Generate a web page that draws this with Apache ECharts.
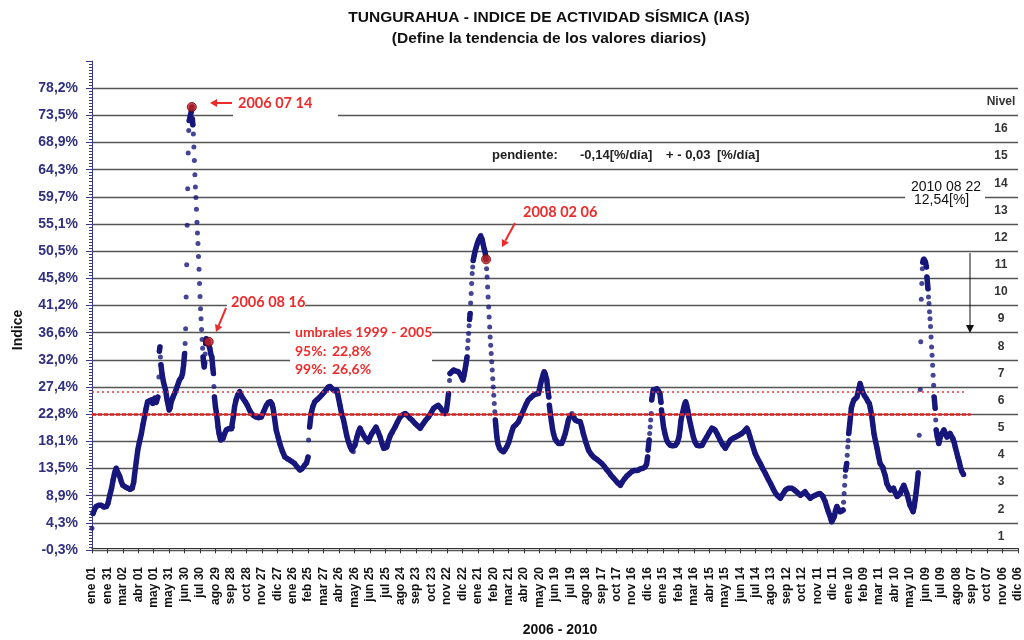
<!DOCTYPE html>
<html><head><meta charset="utf-8">
<script src="https://cdn.jsdelivr.net/npm/echarts@6/dist/echarts.min.js"></script>
<style>html,body{margin:0;padding:0;background:#fff}#c{width:1024px;height:640px}</style>
</head><body><div id="c"></div>
<script>
// ---- tick labels ----
const xLabels = ['ene 01','ene 31','mar 02','abr 01','may 01','may 31','jun 30','jul 30','ago 29','sep 28','oct 28','nov 27','dic 27',
 'ene 26','feb 25','mar 27','abr 26','may 26','jun 25','jul 25','ago 24','sep 23','oct 23','nov 22','dic 22',
 'ene 21','feb 20','mar 21','abr 20','may 20','jun 19','jul 19','ago 18','sep 17','oct 17','nov 16','dic 16',
 'ene 15','feb 14','mar 16','abr 15','may 15','jun 14','jul 14','ago 13','sep 12','oct 12','nov 11','dic 11',
 'ene 10','feb 09','mar 11','abr 10','may 10','jun 09','jul 09','ago 08','sep 07','oct 07','nov 06','dic 06'];
const yLabels = ['-0,3%','4,3%','8,9%','13,5%','18,1%','22,8%','27,4%','32,0%','36,6%','41,2%','45,8%','50,5%','55,1%','59,7%','64,3%','68,9%','73,5%','78,2%'];
const nivelLabels = ['1','2','3','4','5','6','7','8','9','10','11','12','13','14','15','16','Nivel',''];
const yMin = -0.3, yMaxLabel = 78.2;
const dayStep = 30, dayMax = 1800;

// ---- daily IAS values (day index from 2006-01-01, value in %) ----
const days = [0,2,5,8,13,18,23,28,31,34,38,41,44,47,50,54,57,60,65,70,74,78,81,83,86,89,92,96,99,102,105,108,111,115,118,122,125,128,130,131,132,133,134,136,139,143,146,150,152,154,158,162,166,170,174,176,178,180,181,182,183,184,185,186,187,188,189,191,193,194,
195,196,197,198,199,200,201,202,203,204,205,206,207,208,209,210,211,212,213,214,215,216,217,218,219,220,221,222,224,225,227,229,231,233,235,236,237,238,240,242,244,245,247,250,253,255,258,261,265,268,271,273,275,277,280,283,287,
290,294,298,302,306,310,315,319,324,329,334,339,343,347,350,352,355,358,362,365,370,375,380,384,389,394,399,404,408,413,417,420,421,423,426,429,433,438,443,448,452,456,459,463,466,469,472,476,479,482,485,489,492,495,498,502,505,508,511,515,518,521,524,528,532,537,540,544,548,552,556,560,563,567,570,573,576,580,584,589,594,599,604,609,614,618,623,628,633,638,641,644,649,654,659,664,669,673,677,680,683,686,689,691,693,695,696,699,703,708,712,716,719,721,723,725,727,729,
730,731,732,733,734,735,736,737,738,739,740,741,743,745,747,749,751,753,755,756,758,760,762,764,766,767,768,769,770,771,772,773,774,775,776,777,778,779,780,781,782,783,784,785,786,787,789,792,796,800,803,806,810,813,816,819,824,829,834,839,843,848,853,858,863,868,871,874,877,879,881,884,886,888,889,891,893,895,897,900,903,907,910,913,917,920,923,926,930,933,936,939,944,949,952,955,960,965,970,975,978,983,987,991,996,1000,1004,1008,1013,1017,1022,1027,1031,1036,1040,1045,1049,1053,1058,1062,1066,1071,1075,1078,1080,1081,1082,1083,1084,1085,1086,1087,1088,1090,1091,1094,1098,1101,1104,1106,1107,1109,1111,1114,1117,1120,1124,1129,1134,1138,1141,1143,1145,1148,1150,1152,1154,1156,1158,1160,1163,1166,1169,1172,1176,1181,1186,1190,1195,1200,1205,1208,1211,1216,1221,1226,1231,1236,1241,1246,1251,1257,1263,1268,1273,1276,1279,1284,1289,1294,1299,1304,1309,1314,1319,1324,1329,1333,1338,1343,1348,1354,1360,1364,1367,1372,1377,1382,1386,1391,1396,1401,1406,1411,1415,1419,1422,1425,1428,1431,1434,1436,1438,1440,1443,1445,1448,1451,1454,1457,1460,1461,1462,1463,1464,1465,1467,1468,1469,1470,1471,1472,1473,1474,1476,1478,1481,1484,1487,1490,1492,1493,1495,1498,1501,1505,1508,1511,1513,1516,1518,1520,1523,1526,1529,1532,1536,1539,1542,1545,1549,1552,1555,1558,1561,1565,1568,1571,1574,1578,1581,1584,1587,1590,1593,1596,1598,1600,1602,1604,1606,1608,1610,1611,1612,1613,1614,1615,1616,1617,1618,1619,1620,1622,1623,1625,1626,1627,1628,1629,1630,1631,1632,1633,1634,1635,1636,1637,1639,1640,1641,1643,1646,1649,1652,1656,1659,1662,1665,1668,1671,1674,1676,1678,1681,1683,1686,1688,1691,1693,1694];
const ias = [3.4,5.9,6.6,7.1,7.3,7.3,7.0,7.1,7.6,8.8,10.2,11.6,12.8,13.6,12.9,12.2,11.3,10.7,10.4,10.2,10.0,10.2,11.2,12.7,14.7,16.7,18.0,19.5,21.0,22.3,23.7,24.9,25.0,25.2,24.6,25.5,24.8,25.7,29.1,33.5,34.2,32.5,31.2,29.7,28.2,26.9,25.2,23.5,23.9,24.9,25.8,26.6,27.6,28.6,29.1,29.7,31.1,33.1,34.8,37.3,42.7,48.2,54.9,61.1,67.2,71.0,72.7,73.5,74.2,75.0,
73.0,72.0,70.4,68.2,65.9,63.5,61.4,59.6,57.6,55.4,53.6,51.8,49.6,47.4,45.0,42.8,40.7,39.0,37.2,35.5,34.0,32.5,31.5,30.8,31.5,33.0,34.8,35.6,35.2,35.4,35.1,34.0,33.0,32.5,30.5,29.7,27.5,25.7,24.0,22.9,21.5,20.6,19.5,18.4,18.6,18.7,19.5,20.1,20.3,20.4,20.3,20.6,22.5,24.0,25.2,26.0,26.6,
26.0,25.4,24.9,24.3,23.5,22.9,22.5,22.3,22.2,22.3,23.3,24.3,24.8,24.9,24.5,23.8,22.0,20.1,18.8,17.8,16.5,15.5,15.2,15.0,14.7,14.4,13.8,13.3,13.5,14.1,14.5,15.5,18.4,20.6,22.9,24.0,24.9,25.3,25.7,26.2,26.6,27.0,27.4,27.5,27.2,26.9,26.7,26.9,25.6,24.3,23.0,21.8,20.5,19.2,18.2,17.2,16.7,16.4,17.5,18.9,19.8,20.4,19.8,19.2,18.6,18.1,18.8,19.5,20.0,20.6,19.8,18.9,18.0,17.0,17.0,17.2,18.2,19.2,19.8,20.6,21.5,22.3,22.7,22.9,22.5,22.1,21.7,21.2,20.8,20.4,20.8,21.2,21.8,22.3,23.0,23.8,24.1,24.3,23.9,23.5,23.2,22.9,23.5,24.8,26.3,28.5,29.7,30.0,30.3,30.1,30.0,29.5,29.0,28.6,29.3,30.3,31.3,32.5,
34.0,35.3,36.5,37.8,38.9,39.9,41.7,43.3,45.0,46.7,47.8,48.9,49.8,50.6,51.2,51.8,52.3,52.6,53.0,53.2,52.6,51.8,51.0,50.4,49.1,47.5,46.1,44.4,42.7,41.0,39.3,37.6,35.9,34.5,33.1,31.7,30.3,28.8,27.4,26.0,24.6,23.2,21.8,20.8,19.8,18.9,17.8,17.0,16.6,16.4,16.7,17.2,18.0,18.9,19.8,20.6,21.0,21.5,22.5,23.5,24.3,25.2,25.6,26.0,26.2,26.3,27.5,28.6,29.5,30.0,29.6,28.6,27.0,25.7,24.3,22.9,21.6,20.4,19.5,18.6,18.2,17.8,17.8,17.8,18.7,19.5,20.6,21.8,22.6,22.9,22.4,21.8,21.6,21.5,20.6,19.5,18.0,16.7,16.0,15.5,15.3,15.0,14.7,14.4,13.9,13.4,13.0,12.5,12.0,11.6,11.1,10.7,11.3,11.9,12.3,12.7,13.0,13.2,13.2,13.3,13.5,13.6,13.8,14.3,15.5,16.7,17.6,18.4,19.5,20.6,21.8,22.9,25.2,26.4,26.9,27.0,27.1,26.8,26.3,24.8,23.5,22.0,20.6,19.4,18.4,17.9,17.5,17.4,17.5,18.0,18.9,20.2,21.8,23.0,23.8,24.5,24.9,24.3,23.5,22.4,21.2,20.0,18.9,18.1,17.5,17.4,17.5,18.2,18.9,19.7,20.4,20.3,20.1,19.3,18.4,17.6,17.0,17.7,18.4,18.7,18.9,19.2,19.5,19.9,20.4,19.8,18.9,17.5,16.1,15.2,14.4,13.5,12.7,11.8,11.0,10.1,9.3,8.9,8.5,9.2,9.9,10.2,10.2,10.0,9.8,9.4,9.0,9.3,9.6,9.0,8.5,8.8,9.0,9.2,9.3,9.0,8.8,8.0,7.1,6.3,5.6,5.0,4.5,4.9,5.4,6.3,7.1,6.6,6.2,6.3,6.5,7.8,9.3,10.7,12.2,13.3,14.4,15.8,17.2,18.3,19.5,20.3,21.2,22.0,23.8,24.5,25.2,25.4,25.7,26.9,27.6,28.0,27.4,26.6,26.0,25.5,25.0,24.6,23.8,22.3,20.9,19.5,18.2,17.0,15.6,14.4,13.9,13.6,12.3,11.0,10.3,9.9,10.0,10.2,9.5,8.8,9.0,9.3,10.0,10.7,10.0,9.3,8.3,7.3,6.8,6.2,7.0,8.2,9.5,11.0,12.8,19.2,27.0,35.1,42.3,45.0,47.5,48.6,49.0,49.2,49.1,48.9,48.7,47.8,46.1,44.1,42.7,41.6,40.2,39.0,37.7,35.9,34.2,32.8,31.1,29.4,27.7,25.7,23.8,21.8,20.1,19.0,17.8,18.9,19.5,20.1,19.5,18.9,19.2,19.5,19.0,18.7,18.0,17.2,16.2,15.5,14.6,13.8,13.0,12.7,12.54];

// highlighted dates
const hitoDays = [194, 227, 766];
const hitoValues = [75.0, 35.1, 49.1];
// thresholds 1999-2005
const umbral95 = 22.8, umbral99 = 26.6;

const NAVY = '#17177c';
const RED = '#ee2b2b';
const step = (yMaxLabel - yMin) / (yLabels.length - 1);
const yTop = yMin + step * yLabels.length;

const points = days.map((d, i) => [d, ias[i]]);
const band = [];
for (let i = 0; i < days.length; i++) {
  if (i > 0) {
    const slope = Math.abs(ias[i] - ias[i - 1]) / (days[i] - days[i - 1]);
    if (slope > 1.0) band.push([(days[i] + days[i - 1]) / 2, '-']);
  }
  band.push([days[i], ias[i]]);
}

function arrow(x1, y1, x2, y2, color, w, L, W) {
  const a = Math.atan2(y2 - y1, x2 - x1);
  const bx = x2 - L * Math.cos(a), by = y2 - L * Math.sin(a);
  const px = -Math.sin(a) * W, py = Math.cos(a) * W;
  return [
    {type: 'line', z: 100, shape: {x1: x1, y1: y1, x2: bx, y2: by}, style: {stroke: color, lineWidth: w}},
    {type: 'polygon', z: 100, shape: {points: [[x2, y2], [bx + px, by + py], [bx - px, by - py]]}, style: {fill: color}}
  ];
}
function txt(text, x, y, font, fill, align, rot) {
  return {type: 'text', z: 101, x: x, y: y, rotation: rot || 0,
    style: {text: text, font: font, fill: fill, textAlign: align || 'left', align: align || 'left', textVerticalAlign: 'middle', verticalAlign: 'middle'}};
}
function box(x, y, w, h) {
  return {type: 'rect', z: 99, shape: {x: x, y: y, width: w, height: h}, style: {fill: '#fff'}};
}
const F = '"Liberation Sans", Arial, sans-serif';
const FC = 'Lato, "Open Sans", sans-serif';

const graphics = [
  box(233, 93, 105, 25), box(227, 291, 78, 24), box(290, 320, 142, 58), box(905, 178, 80, 31),
  txt('TUNGURAHUA - INDICE DE ACTIVIDAD SÍSMICA (IAS)', 549, 18, 'bold 15.5px ' + F, '#111', 'center'),
  txt('(Define la tendencia de los valores diarios)', 549, 39, 'bold 15.5px ' + F, '#111', 'center'),
  txt('Indice', 18, 330, 'bold 14px ' + F, '#111', 'center', Math.PI / 2),
  txt('2006 - 2010', 560, 630, 'bold 14px ' + F, '#111', 'center'),
  txt('2006 07 14', 238, 103, 'bold 14.5px ' + FC, RED, 'left'),
  txt('2006 08 16', 231, 302, 'bold 14.5px ' + FC, RED, 'left'),
  txt('2008 02 06', 523, 212, 'bold 14.5px ' + FC, RED, 'left'),
  txt('umbrales 1999 - 2005', 295, 332, 'bold 14px ' + FC, RED, 'left'),
  txt('95%:', 295, 351, 'bold 14px ' + FC, RED, 'left'),
  txt('22,8%', 332, 351, 'bold 14px ' + FC, RED, 'left'),
  txt('99%:', 295, 369, 'bold 14px ' + FC, RED, 'left'),
  txt('26,6%', 332, 369, 'bold 14px ' + FC, RED, 'left'),
  txt('pendiente:', 492, 155, 'bold 13px ' + F, '#222', 'left'),
  txt('-0,14[%/día]', 580, 155, 'bold 13px ' + F, '#222', 'left'),
  txt('+ - 0,03', 666, 155, 'bold 13px ' + F, '#222', 'left'),
  txt('[%/día]', 717, 155, 'bold 13px ' + F, '#222', 'left'),
  txt('2010 08 22', 911, 187, '14px ' + F, '#111', 'left'),
  txt('12,54[%]', 914, 200, '14px ' + F, '#111', 'left')
].concat(arrow(232, 103, 210, 103, RED, 2, 7, 4))
 .concat(arrow(226, 308, 216, 332, RED, 2, 7, 4))
 .concat(arrow(515, 223, 502, 247, RED, 2, 7, 4))
 .concat(arrow(970, 253, 970, 333, '#111', 1, 8, 4));

const chart = echarts.init(document.getElementById('c'), null, {renderer: 'canvas'});
chart.setOption({
  animation: false,
  backgroundColor: '#fff',
  grid: [
    {left: 92, right: 6, top: 61, bottom: 90},
    {left: 92, right: 6, top: 61, bottom: 90}
  ],
  xAxis: [
    {gridIndex: 0, type: 'value', min: 0, max: dayMax, interval: dayStep,
     axisLine: {lineStyle: {color: '#333', width: 1}},
     axisTick: {length: 5, lineStyle: {color: '#333'}},
     splitLine: {show: false},
     axisLabel: {rotate: 90, margin: 17, fontFamily: F, fontWeight: 'bold', fontSize: 12, color: '#111',
       formatter: v => xLabels[Math.round(v / dayStep)] || ''}},
    {gridIndex: 1, type: 'value', min: 0, max: dayMax, show: false}
  ],
  yAxis: [
    {gridIndex: 0, type: 'value', min: yMin, max: yTop, interval: step / 9,
     axisLine: {show: true, lineStyle: {color: '#3a3a8c', width: 1}},
     axisTick: {show: true, length: 3, lineStyle: {color: '#3a3a8c'}},
     axisLabel: {show: false}, splitLine: {show: false}},
    {gridIndex: 1, type: 'category', position: 'left', boundaryGap: false, data: yLabels.concat(['']),
     axisLine: {show: false},
     axisTick: {show: true, interval: 0, length: 6, lineStyle: {color: '#3a3a8c'}},
     axisLabel: {interval: 0, margin: 14, fontFamily: F, fontWeight: 'bold', fontSize: 14, color: '#30307f'},
     splitLine: {show: true, interval: (i, v) => v !== '', lineStyle: {color: '#555', width: 1.3}}},
    {gridIndex: 1, type: 'category', position: 'right', boundaryGap: true, data: nivelLabels,
     axisLine: {show: false}, axisTick: {show: false}, splitLine: {show: false},
     axisLabel: {inside: true, interval: 0, margin: 17, align: 'center', padding: [8, 0, 0, 0],
       fontFamily: F, fontWeight: 'bold', fontSize: 12, color: '#333'}}
  ],
  series: [
    {type: 'line', name: 'umbrales', xAxisIndex: 0, yAxisIndex: 0, data: [], z: 2, silent: true,
     markLine: {silent: true, symbol: 'none', label: {show: false}, animation: false,
       data: [
         [{coord: [0, umbral95], lineStyle: {color: '#e82020', type: [4, 2], width: 2.5}}, {coord: [1708, umbral95]}],
         [{coord: [0, umbral99], lineStyle: {color: '#e83a3a', type: [2, 3], width: 1.5}}, {coord: [1698, umbral99]}]
       ]}},
    {type: 'line', name: 'banda', xAxisIndex: 0, yAxisIndex: 0, data: band, showSymbol: false, symbol: 'none',
     connectNulls: false, silent: true, z: 3,
     lineStyle: {color: NAVY, width: 5.5, cap: 'round', join: 'round'}},
    {type: 'scatter', name: 'IAS', xAxisIndex: 0, yAxisIndex: 0, data: points, symbolSize: 5, z: 4, silent: true,
     itemStyle: {color: NAVY}},
    {type: 'scatter', name: 'hitos', xAxisIndex: 0, yAxisIndex: 0, data: hitoDays.map((d, i) => [d, hitoValues[i]]),
     symbolSize: 9, z: 5, silent: true, itemStyle: {color: '#c42020', borderColor: '#6b0000', borderWidth: 1}}
  ],
  graphic: {elements: graphics}
});
</script>
</body></html>
